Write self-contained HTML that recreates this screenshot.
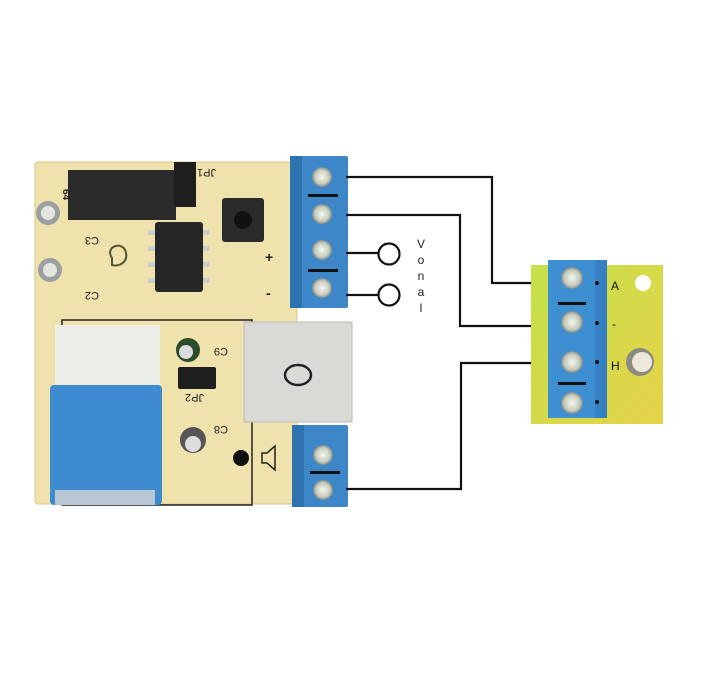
<!DOCTYPE html>
<html><head><style>body{margin:0;background:#fff}svg{display:block}</style></head><body>
<svg width="701" height="700" viewBox="0 0 701 700" xmlns="http://www.w3.org/2000/svg" font-family="Liberation Sans, sans-serif">
<defs>
<radialGradient id="scr" cx="50%" cy="50%" r="50%"><stop offset="0" stop-color="#f4f6ee"/><stop offset="0.7" stop-color="#c8cdbf"/><stop offset="1" stop-color="#7d8a8a"/></radialGradient>
<linearGradient id="grn" x1="0" y1="0" x2="1" y2="1"><stop offset="0" stop-color="#c4e04a"/><stop offset="1" stop-color="#e6d34a"/></linearGradient>
</defs>
<!-- main PCB -->
<rect x="35" y="162" width="262" height="342" rx="3" fill="#efe2ad" stroke="#d8c58a"/>
<rect x="62" y="320" width="190" height="185" fill="none" stroke="#222" stroke-width="1.5"/>
<!-- headers -->
<rect x="68" y="170" width="108" height="50" fill="#2b2b2b"/>
<rect x="174" y="162" width="22" height="45" fill="#1e1e1e"/>
<text x="200" y="175" font-size="11" transform="rotate(180 208 172)" fill="#222">JP1</text>
<text x="62" y="200" font-size="10" font-weight="bold" transform="rotate(90 68 195)" fill="#222">64</text>
<!-- IC -->
<rect x="155" y="222" width="48" height="70" rx="3" fill="#262626"/>
<g fill="#ccc"><rect x="148" y="230" width="7" height="5"/><rect x="148" y="246" width="7" height="5"/><rect x="148" y="262" width="7" height="5"/><rect x="148" y="278" width="7" height="5"/><rect x="203" y="230" width="7" height="5"/><rect x="203" y="246" width="7" height="5"/><rect x="203" y="262" width="7" height="5"/><rect x="203" y="278" width="7" height="5"/></g>
<!-- button -->
<rect x="222" y="198" width="42" height="44" rx="3" fill="#2a2a2a"/><circle cx="243" cy="220" r="9" fill="#111"/>
<!-- caps left -->
<circle cx="48" cy="213" r="12" fill="#9aa0a0"/><circle cx="48" cy="213" r="7" fill="#e4e4de"/>
<circle cx="50" cy="270" r="12" fill="#9aa0a0"/><circle cx="50" cy="270" r="7" fill="#e4e4de"/>
<text x="85" y="245" font-size="11" transform="rotate(180 92 241)" fill="#222">C3</text>
<text x="85" y="300" font-size="11" transform="rotate(180 92 296)" fill="#222">C2</text>
<path d="M112 258c-8 -12 12 -18 14 -5c2 10 -8 14 -14 12z" fill="none" stroke="#553" stroke-width="2"/>
<!-- white connector part + blue -->
<rect x="55" y="325" width="105" height="62" fill="#eeeeea"/>
<rect x="50" y="385" width="112" height="120" rx="4" fill="#3f8bd0"/>
<rect x="55" y="490" width="100" height="15" fill="#b7c7d4"/>
<!-- caps middle -->
<circle cx="188" cy="350" r="12" fill="#2d4a2a"/><circle cx="186" cy="352" r="7" fill="#ddd"/>
<text x="212" y="356" font-size="11" transform="rotate(180 220 352)" fill="#222">C9</text>
<rect x="178" y="367" width="38" height="22" rx="2" fill="#1e1e1e"/>
<text x="188" y="402" font-size="11" transform="rotate(180 196 398)" fill="#222">JP2</text>
<circle cx="193" cy="440" r="13" fill="#555"/><circle cx="193" cy="444" r="8" fill="#ddd"/>
<text x="212" y="434" font-size="11" transform="rotate(180 220 430)" fill="#222">C8</text>
<circle cx="241" cy="458" r="8" fill="#111"/>
<path d="M262 453h5l8-7v24l-8-7h-5z" fill="none" stroke="#222" stroke-width="1.5"/>
<!-- relay white -->
<rect x="244" y="322" width="108" height="100" fill="#d9d9d6" stroke="#bbb"/>
<ellipse cx="298" cy="375" rx="13" ry="10" fill="none" stroke="#222" stroke-width="2.5"/>
<text x="265" y="262" font-size="14" font-weight="bold" fill="#222">+</text>
<text x="266" y="298" font-size="14" font-weight="bold" fill="#222">-</text>
<!-- top terminal -->
<rect x="290" y="156" width="58" height="152" rx="2" fill="#3d87c8"/>
<rect x="290" y="156" width="12" height="152" fill="#2f72b0"/>
<g fill="url(#scr)"><circle cx="322" cy="177" r="10"/><circle cx="322" cy="214" r="10"/><circle cx="322" cy="250" r="10"/><circle cx="322" cy="288" r="10"/></g>
<rect x="308" y="194" width="30" height="3" fill="#111"/><rect x="308" y="269" width="30" height="3" fill="#111"/>
<!-- bottom terminal -->
<rect x="292" y="425" width="56" height="82" rx="2" fill="#3d87c8"/>
<rect x="292" y="425" width="12" height="82" fill="#2f72b0"/>
<g fill="url(#scr)"><circle cx="323" cy="455" r="10"/><circle cx="323" cy="490" r="10"/></g>
<rect x="310" y="471" width="30" height="3" fill="#111"/>
<!-- wires -->
<g fill="none" stroke="#111" stroke-width="2.2">
<path d="M346 177H492V283H550"/>
<path d="M346 215H460V326H550"/>
<path d="M346 253H378"/>
<path d="M346 295H378"/>
<path d="M346 489H461V363H550"/>
</g>
<circle cx="389" cy="254" r="10.5" fill="#fff" stroke="#111" stroke-width="2.2"/>
<circle cx="389" cy="295" r="10.5" fill="#fff" stroke="#111" stroke-width="2.2"/>
<g font-size="12" fill="#222" text-anchor="middle"><text x="421" y="248">V</text><text x="421" y="264">o</text><text x="421" y="280">n</text><text x="421" y="296">a</text><text x="421" y="312">l</text></g>
<!-- right board -->
<rect x="531" y="265" width="132" height="159" fill="url(#grn)"/>
<circle cx="643" cy="283" r="8" fill="#fff"/>
<circle cx="640" cy="362" r="14" fill="#8a8a80"/><circle cx="642" cy="362" r="10" fill="#ece9dc"/>
<rect x="548" y="260" width="59" height="158" fill="#3d8fd2"/>
<rect x="595" y="260" width="12" height="158" fill="#3580c2"/>
<g fill="url(#scr)"><circle cx="572" cy="278" r="11"/><circle cx="572" cy="322" r="11"/><circle cx="572" cy="362" r="11"/><circle cx="572" cy="403" r="11"/></g>
<rect x="558" y="302" width="28" height="3" fill="#111"/><rect x="558" y="382" width="28" height="3" fill="#111"/>
<g fill="#111"><circle cx="597" cy="283" r="2"/><circle cx="597" cy="323" r="2"/><circle cx="597" cy="362" r="2"/><circle cx="597" cy="402" r="2"/></g>
<text x="611" y="290" font-size="12" fill="#111">A</text>
<text x="612" y="328" font-size="12" fill="#111">-</text>
<text x="611" y="370" font-size="12" fill="#111">H</text>
</svg>
</body></html>
